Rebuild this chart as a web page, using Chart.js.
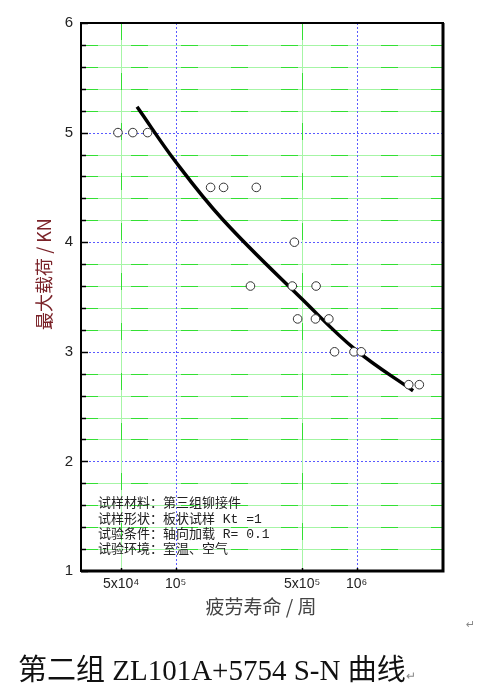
<!DOCTYPE html>
<html>
<head>
<meta charset="utf-8">
<script src="https://cdn.jsdelivr.net/npm/chart.js@4.4.0/dist/chart.umd.min.js"></script>
<style>
  html, body { margin: 0; padding: 0; background: #fff; }
  #wrap { position: relative; width: 477px; height: 694px; overflow: hidden; }
  #sn { position: absolute; left: 0; top: 0; }
  .mark { position: absolute; color: #888; font: 11px 'DejaVu Sans', sans-serif; }
  #caption { position: absolute; left: 18px; top: 646px; white-space: nowrap;
    font: 29px 'Liberation Serif', 'Noto Sans CJK SC', serif; color: #111; }
</style>
</head>
<body>
<div id="wrap">
  <canvas id="sn" width="477" height="694"></canvas>
  <span class="mark" style="left:466px; top:618px;">↵</span>
  <div id="caption">第二组 ZL101A+5754 S-N 曲线<span style="font-size:12px; color:#888;">↵</span></div>
</div>
<script>
// test points: fatigue life (cycles) vs max load (kN)
const lifeCycles = [48000, 58000, 70000, 156000, 184000, 279000, 453000, 259000, 441000,
  597000, 472000, 592000, 702000, 755000, 967000, 1060000, 1940000, 2220000];
const maxLoad = [5, 5, 5, 4.5, 4.5, 4.5, 4, 3.6, 3.6, 3.6, 3.3, 3.3, 3.3, 3, 3, 3, 2.7, 2.7];

// fitted S-N curve
const fitLife = [61200, 100000, 183000, 499000, 1000000, 2050000];
const fitLoad = [5.236, 4.734, 4.203, 3.482, 3.01, 2.645];

const xTicks = [5e4, 1e5, 5e5, 1e6];
const xTickLabels = ['5x10⁴', '10⁵', '5x10⁵', '10⁶'];
const xMajor = [1e5, 1e6];

const noteLines = [
  '试样材料：第三组铆接件',
  '试样形状：板状试样 Kt =1',
  '试验条件：轴向加载 R= 0.1',
  '试验环境：室温、空气',
];

const isInt = v => Math.abs(v - Math.round(v)) < 1e-6;

// grid, frame, axis ticks, titles and the note
const decor = {
  id: 'decor',
  beforeDatasetsDraw(chart) {
    const { ctx, chartArea: a, scales: { x, y } } = chart;
    ctx.save();
    const greenLine = (x1, y1, x2, y2) => {
      ctx.setLineDash([]);
      ctx.strokeStyle = '#a6f5a6';
      ctx.lineWidth = 1;
      ctx.beginPath(); ctx.moveTo(x1, y1); ctx.lineTo(x2, y2); ctx.stroke();
      ctx.setLineDash([17, 33]);
      ctx.strokeStyle = '#33e033';
      ctx.beginPath(); ctx.moveTo(x1, y1); ctx.lineTo(x2, y2); ctx.stroke();
    };
    const blueLine = (x1, y1, x2, y2) => {
      ctx.setLineDash([2, 2]);
      ctx.strokeStyle = '#5a5aff';
      ctx.lineWidth = 1;
      ctx.beginPath(); ctx.moveTo(x1, y1); ctx.lineTo(x2, y2); ctx.stroke();
    };
    y.ticks.forEach(t => {
      if (t.value <= y.min || t.value >= y.max) return;
      const py = Math.round(y.getPixelForValue(t.value)) + 0.5;
      if (isInt(t.value)) blueLine(a.left, py, a.right, py);
      else greenLine(a.left, py, a.right, py);
    });
    xTicks.forEach(v => {
      const px = Math.round(x.getPixelForValue(v)) + 0.5;
      if (xMajor.includes(v)) blueLine(px, a.top, px, a.bottom);
      else greenLine(px, a.top, px, a.bottom);
    });

    // note inside the plot
    ctx.setLineDash([]);
    ctx.fillStyle = '#222';
    ctx.font = "13px 'Liberation Mono', 'Noto Sans CJK SC'";
    ctx.textBaseline = 'middle';
    ctx.textAlign = 'left';
    noteLines.forEach((s, i) => ctx.fillText(s, 98, 504 + i * 15.2));
    ctx.restore();
  },
  afterDraw(chart) {
    const { ctx, chartArea: a, scales: { x, y } } = chart;
    ctx.save();
    // axis ticks
    ctx.strokeStyle = '#000';
    ctx.lineWidth = 1.5;
    y.ticks.forEach(t => {
      const py = Math.round(y.getPixelForValue(t.value)) + 0.5;
      const len = isInt(t.value) ? 7 : 5;
      ctx.beginPath(); ctx.moveTo(a.left, py); ctx.lineTo(a.left + len, py); ctx.stroke();
    });
    xTicks.forEach(v => {
      const px = Math.round(x.getPixelForValue(v)) + 0.5;
      ctx.beginPath(); ctx.moveTo(px, a.bottom); ctx.lineTo(px, a.bottom - 3); ctx.stroke();
    });
    // frame, heavier on the right and bottom
    ctx.lineWidth = 2;
    ctx.strokeRect(a.left, a.top, a.right - a.left, a.bottom - a.top);
    ctx.lineWidth = 3;
    ctx.beginPath();
    ctx.moveTo(a.right, a.top); ctx.lineTo(a.right, a.bottom); ctx.lineTo(a.left, a.bottom);
    ctx.stroke();

    // axis titles
    ctx.textAlign = 'center';
    ctx.textBaseline = 'middle';
    ctx.fillStyle = '#444';
    ctx.font = "19px 'Noto Sans CJK SC'";
    ctx.fillText('疲劳寿命 / 周', 261, 607);
    ctx.translate(44, 274);
    ctx.rotate(-Math.PI / 2);
    ctx.fillStyle = '#7a2228';
    ctx.font = "18px 'Noto Sans CJK SC'";
    ctx.fillText('最大载荷 / KN', 0, 0);
    ctx.restore();
  },
};

new Chart(document.getElementById('sn'), {
  type: 'scatter',
  data: {
    datasets: [
      // fitted curve
      {
        data: fitLife.map((v, i) => ({ x: v, y: fitLoad[i] })),
        showLine: true,
        borderColor: '#000',
        borderWidth: 3.5,
        pointRadius: 0,
        tension: 0.4,
        borderCapStyle: 'butt',
        order: 1,
      },
      // test points
      {
        data: lifeCycles.map((v, i) => ({ x: v, y: maxLoad[i] })),
        pointStyle: 'circle',
        pointRadius: 4.3,
        borderColor: '#333',
        borderWidth: 1,
        backgroundColor: '#fff',
        order: 0,
      },
    ],
  },
  options: {
    responsive: false,
    animation: false,
    devicePixelRatio: 1,
    layout: { padding: { top: 23, right: 34, left: 0, bottom: 0 } },
    scales: {
      x: {
        type: 'logarithmic',
        min: 3e4,
        max: 3e6,
        afterBuildTicks: (s) => { s.ticks = xTicks.map(v => ({ value: v })); },
        afterFit: (s) => { s.height = 123; },
        grid: { display: false, drawTicks: false },
        border: { display: false },
        ticks: {
          padding: 5,
          autoSkip: false,
          maxRotation: 0,
          color: '#222',
          font: { family: "'Liberation Sans', Arial", size: 14 },
          callback: (v) => xTickLabels[xTicks.indexOf(v)] ?? '',
        },
      },
      y: {
        min: 1,
        max: 6,
        afterFit: (s) => { s.width = 81; },
        grid: { display: false, drawTicks: false },
        border: { display: false },
        ticks: {
          stepSize: 0.2,
          padding: 8,
          autoSkip: false,
          color: '#222',
          font: { family: "'Liberation Sans', Arial", size: 15 },
          callback: (v) => (isInt(v) ? String(Math.round(v)) : ''),
        },
      },
    },
    plugins: {
      legend: { display: false },
      tooltip: { enabled: false },
    },
  },
  plugins: [decor],
});
</script>
</body>
</html>
